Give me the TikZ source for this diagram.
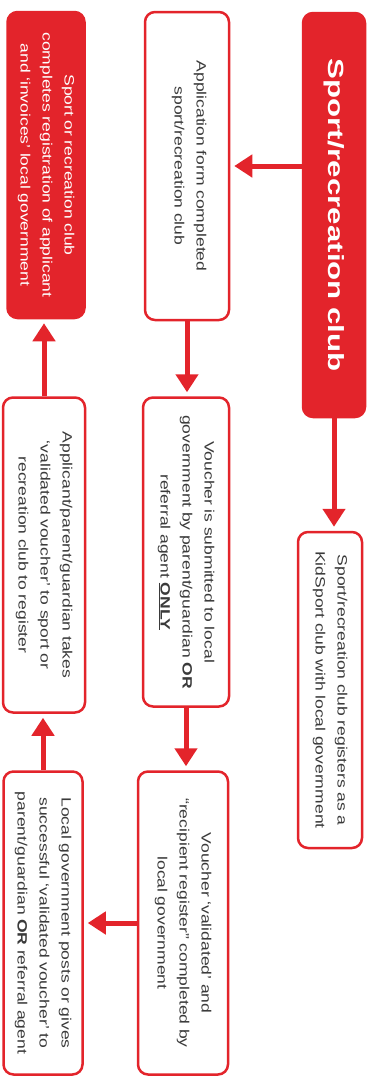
\documentclass[tikz,border=0pt]{standalone}
\usepackage{fontspec}
\usetikzlibrary{arrows.meta}
\newfontfamily\bodyfont[FakeStretch=1.3]{Liberation Sans}
\newfontfamily\titlefont[FakeStretch=1.42]{Liberation Sans}
\definecolor{myred}{HTML}{E3242B}
\definecolor{txtgray}{HTML}{3A3A3A}
\tikzset{
  wbox/.style={draw=myred, line width=2.5pt, fill=white, rounded corners=10pt,
    rotate=-90, align=center, inner sep=0pt, text=txtgray,
    font=\bodyfont\fontsize{13.5}{22}\selectfont},
  rbox/.style={wbox, fill=myred, text=white},
  arr/.style={draw=myred, line width=5pt, shorten >=4pt,
    -{Triangle[length=18pt,width=22pt]}},
}
\begin{document}
\begin{tikzpicture}[x=1pt,y=-1pt]
\useasboundingbox (0,0) rectangle (376,1079);
% column right
\node[rbox, minimum width=404pt, minimum height=62pt, text width=380pt,
  font=\titlefont\bfseries\fontsize{22}{26}\selectfont] (title) at (334,215) {Sport/recreation club};
\node[wbox, minimum width=316pt, minimum height=64pt, text width=300pt] (kid) at (330,690)
  {Sport/recreation club registers as a\\KidSport club with local government};
% column middle
\node[wbox, minimum width=308pt, minimum height=84pt, text width=290pt, text depth=29pt] (app) at (187,166)
  {Application form completed\\sport/recreation club};
\node[wbox, minimum width=309pt, minimum height=86pt, text width=295pt] (sub) at (186,552)
  {Voucher is submitted to local\\government by parent/guardian \textbf{OR}\\referral agent \textbf{\underline{ONLY}}};
\node[wbox, minimum width=303pt, minimum height=90pt, text width=290pt] (val) at (183,923)
  {Voucher ‘validated’ and\\“recipient register” completed by\\local government};
% column left
\node[rbox, minimum width=306pt, minimum height=77pt, text width=295pt] (inv) at (46,165)
  {Sport or recreation club\\completes registration of applicant\\and ‘invoices’ local government};
\node[wbox, minimum width=315pt, minimum height=82pt, text width=300pt] (take) at (44,555)
  {Applicant/parent/guardian takes\\‘validated voucher’ to sport or\\recreation club to register};
\node[wbox, minimum width=303pt, minimum height=79pt, text width=295pt] (post) at (43,923)
  {Local government posts or gives\\successful ‘validated voucher’ to\\parent/guardian \textbf{OR} referral agent};
% connectors
\draw[arr] (title.south |- app.north) -- (app.north);
\draw[arr] (title.east) -- (title.east |- kid.west);
\draw[arr] (app.east) -- (app.east |- sub.west);
\draw[arr] (sub.east) -- (sub.east |- val.west);
\draw[arr] (val.south) -- (val.south -| post.north);
\draw[arr] (post.west) -- (post.west |- take.east);
\draw[arr] (take.west) -- (take.west |- inv.east);
\end{tikzpicture}
\end{document}
